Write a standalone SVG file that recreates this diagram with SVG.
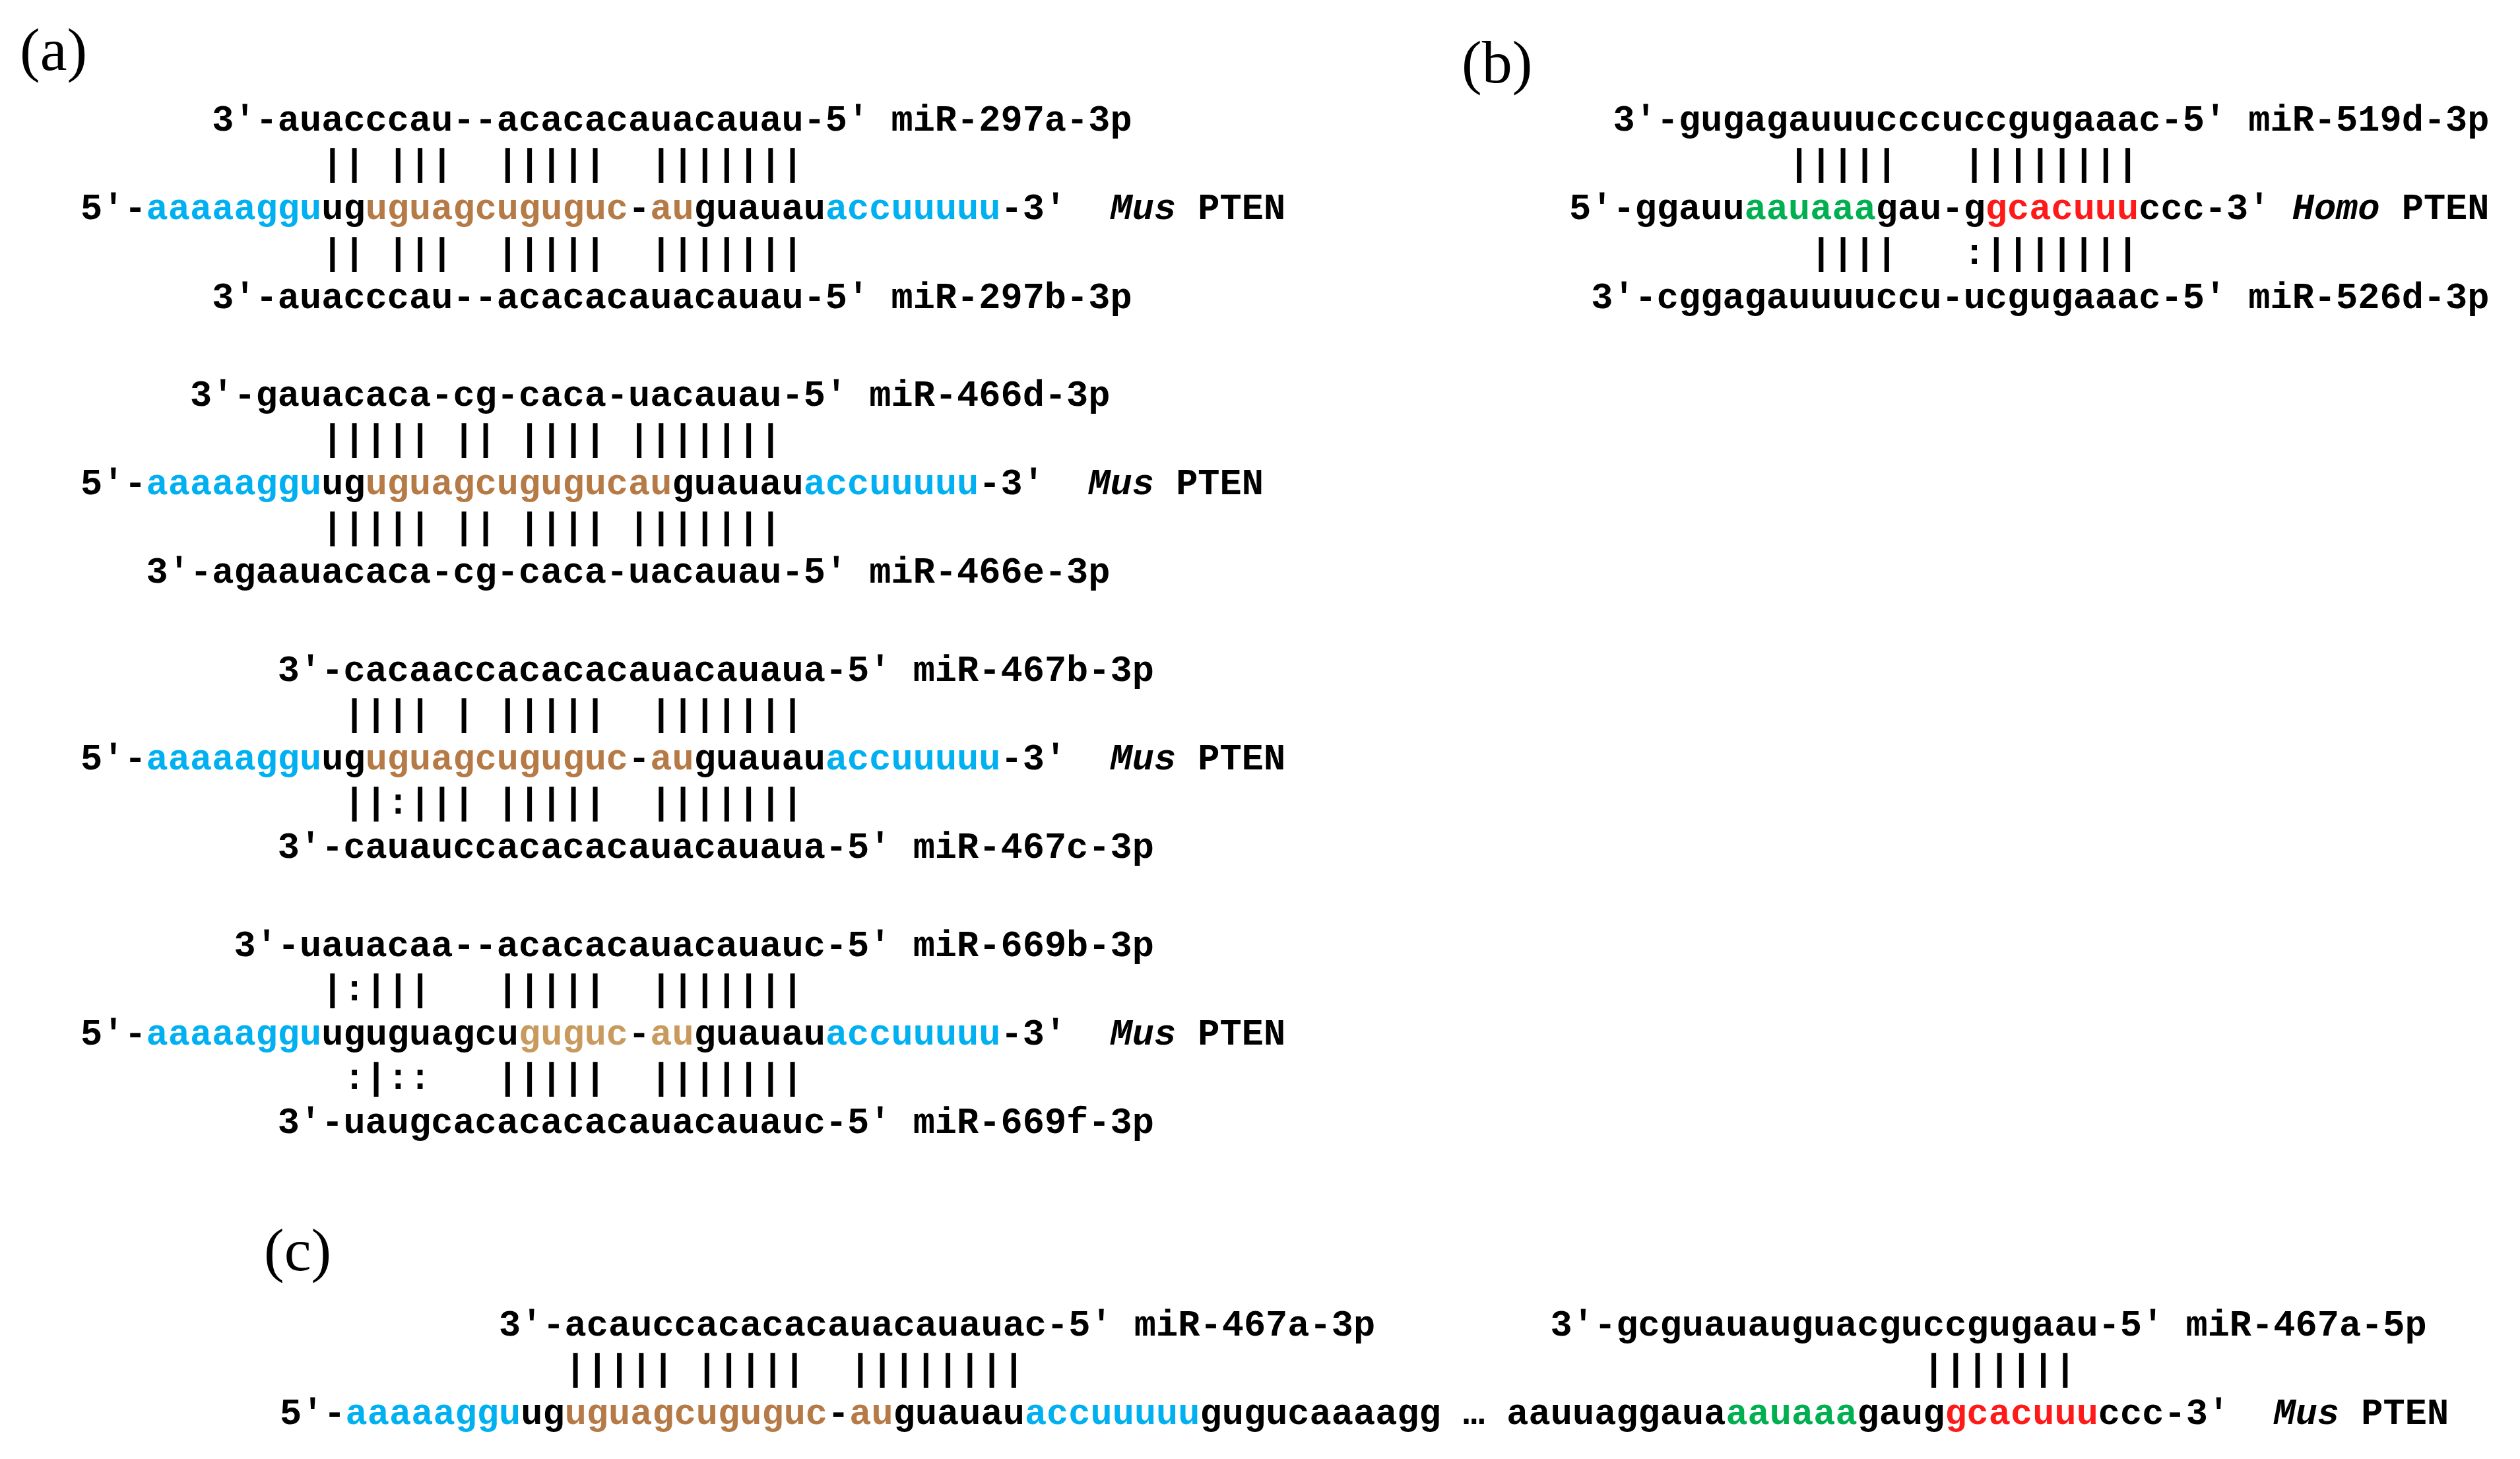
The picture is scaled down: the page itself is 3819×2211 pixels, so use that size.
<svg xmlns="http://www.w3.org/2000/svg" width="3819" height="2211" viewBox="0 0 3819 2211">
<style>
text{font-family:"Liberation Mono","DejaVu Sans Mono",monospace;font-size:55.33px;font-weight:bold;fill:#000;white-space:pre}
.lbl{font-family:"Liberation Serif","Times New Roman",serif;font-size:92px;font-weight:normal}
.b{fill:#00b0f0}.o{fill:#b57a45}.lo{fill:#c99a5e}.g{fill:#00b050}.r{fill:#ff1a1a}.i{font-style:italic}
</style>
<rect width="3819" height="2211" fill="#fff"/>
<text class="lbl" x="30" y="106">(a)</text>
<text class="lbl" x="2215" y="125">(b)</text>
<text class="lbl" x="400" y="1925">(c)</text>
<g id="block-a1">
<text x="321.2" y="198">3'-auacccau--acacacauacauau-5' miR-297a-3p</text>
<text x="487.2" y="265" xml:space="preserve">|| |||  |||||  |||||||</text>
<text x="122" y="332" xml:space="preserve">5'-<tspan class="b">aaaaaggu</tspan>ug<tspan class="o">uguagcuguguc</tspan>-<tspan class="o">au</tspan>guauau<tspan class="b">accuuuuu</tspan>-3'  <tspan class="i">Mus</tspan> PTEN</text>
<text x="487.2" y="400" xml:space="preserve">|| |||  |||||  |||||||</text>
<text x="321.2" y="467">3'-auacccau--acacacauacauau-5' miR-297b-3p</text>
</g>
<g id="block-a2">
<text x="288" y="615">3'-gauacaca-cg-caca-uacauau-5' miR-466d-3p</text>
<text x="487.2" y="682" xml:space="preserve">||||| || |||| |||||||</text>
<text x="122" y="749" xml:space="preserve">5'-<tspan class="b">aaaaaggu</tspan>ug<tspan class="o">uguagcugugucau</tspan>guauau<tspan class="b">accuuuuu</tspan>-3'  <tspan class="i">Mus</tspan> PTEN</text>
<text x="487.2" y="816" xml:space="preserve">||||| || |||| |||||||</text>
<text x="221.6" y="883">3'-agaauacaca-cg-caca-uacauau-5' miR-466e-3p</text>
</g>
<g id="block-a3">
<text x="420.8" y="1032">3'-cacaaccacacacauacauaua-5' miR-467b-3p</text>
<text x="520.4" y="1099" xml:space="preserve">|||| | |||||  |||||||</text>
<text x="122" y="1166" xml:space="preserve">5'-<tspan class="b">aaaaaggu</tspan>ug<tspan class="o">uguagcuguguc</tspan>-<tspan class="o">au</tspan>guauau<tspan class="b">accuuuuu</tspan>-3'  <tspan class="i">Mus</tspan> PTEN</text>
<text x="520.4" y="1233" xml:space="preserve">||:||| |||||  |||||||</text>
<text x="420.8" y="1300">3'-cauauccacacacauacauaua-5' miR-467c-3p</text>
</g>
<g id="block-a4">
<text x="354.4" y="1449">3'-uauacaa--acacacauacauauc-5' miR-669b-3p</text>
<text x="487.2" y="1516" xml:space="preserve">|:|||   |||||  |||||||</text>
<text x="122" y="1583" xml:space="preserve">5'-<tspan class="b">aaaaaggu</tspan>uguguagcu<tspan class="lo">guguc</tspan>-<tspan class="lo">au</tspan>guauau<tspan class="b">accuuuuu</tspan>-3'  <tspan class="i">Mus</tspan> PTEN</text>
<text x="520.4" y="1650" xml:space="preserve">:|::   |||||  |||||||</text>
<text x="420.8" y="1717">3'-uaugcacacacacauacauauc-5' miR-669f-3p</text>
</g>
<g id="block-b">
<text x="2444.4" y="198">3'-gugagauuucccuccgugaaac-5' miR-519d-3p</text>
<text x="2710" y="265" xml:space="preserve">|||||   ||||||||</text>
<text x="2378" y="332" xml:space="preserve">5'-ggauu<tspan class="g">aauaaa</tspan>gau-g<tspan class="r">gcacuuu</tspan>ccc-3' <tspan class="i">Homo</tspan> PTEN</text>
<text x="2743.2" y="400" xml:space="preserve">||||   :|||||||</text>
<text x="2411.2" y="467">3'-cggagauuuuccu-ucgugaaac-5' miR-526d-3p</text>
</g>
<g id="block-c">
<text x="756" y="2024">3'-acauccacacacauacauauac-5' miR-467a-3p</text>
<text x="2349.6" y="2024">3'-gcguauauguacguccgugaau-5' miR-467a-5p</text>
<text x="855.6" y="2091" xml:space="preserve">||||| |||||  ||||||||</text>
<text x="2914" y="2091" xml:space="preserve">|||||||</text>
<text x="424" y="2158" xml:space="preserve">5'-<tspan class="b">aaaaaggu</tspan>ug<tspan class="o">uguagcuguguc</tspan>-<tspan class="o">au</tspan>guauau<tspan class="b">accuuuuu</tspan>gugucaaaagg … aauuaggaua<tspan class="g">aauaaa</tspan>gaug<tspan class="r">gcacuuu</tspan>ccc-3'  <tspan class="i">Mus</tspan> PTEN</text>
</g>
<g id="connectors"/>
</svg>
